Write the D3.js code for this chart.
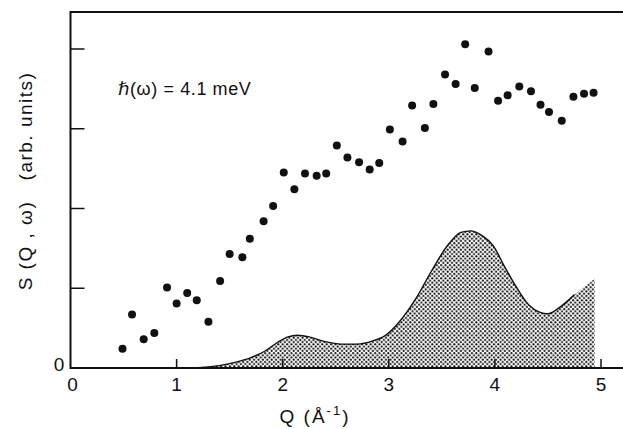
<!DOCTYPE html>
<html>
<head>
<meta charset="utf-8">
<script src="https://cdn.jsdelivr.net/npm/d3@7"></script>
<style>
  body { margin: 0; background: #fff; }
  svg text { font-family: "Liberation Sans", "DejaVu Sans", sans-serif; fill: #111; }
</style>
</head>
<body>
<div class="chart"></div>
<script>
// measured points S(Q, w) at 4.1 meV
var qPoints = [0.49, 0.58, 0.69, 0.79, 0.91, 1.00, 1.10, 1.19, 1.30, 1.41, 1.50, 1.62, 1.69, 1.82, 1.91,
               2.01, 2.11, 2.21, 2.32, 2.41, 2.51, 2.61, 2.72, 2.82, 2.91, 3.01, 3.13, 3.22, 3.34, 3.42,
               3.53, 3.63, 3.72, 3.81, 3.94, 4.03, 4.12, 4.23, 4.34, 4.43, 4.51, 4.63, 4.74, 4.84, 4.93];
var sPoints = [0.24, 0.67, 0.36, 0.44, 1.01, 0.81, 0.94, 0.85, 0.58, 1.09, 1.43, 1.39, 1.62, 1.84, 2.03,
               2.45, 2.24, 2.44, 2.41, 2.44, 2.79, 2.64, 2.58, 2.49, 2.57, 2.99, 2.84, 3.29, 3.01, 3.31,
               3.68, 3.56, 4.06, 3.51, 3.97, 3.35, 3.42, 3.53, 3.47, 3.30, 3.21, 3.10, 3.40, 3.44, 3.45];

// shaded calculated curve
var qCurve = [1.0, 1.2, 1.4, 1.55, 1.7, 1.83, 1.95, 2.05, 2.14, 2.25, 2.4, 2.55, 2.7, 2.85, 2.97,
              3.1, 3.25, 3.4, 3.55, 3.68, 3.77, 3.88, 3.98, 4.1, 4.2, 4.32, 4.42, 4.5, 4.6, 4.75, 4.94];
var sCurve = [0.0, 0.005, 0.03, 0.07, 0.13, 0.21, 0.32, 0.39, 0.41, 0.39, 0.33, 0.30, 0.30, 0.34, 0.41,
              0.58, 0.86, 1.21, 1.53, 1.70, 1.72, 1.66, 1.54, 1.25, 1.02, 0.79, 0.70, 0.68, 0.75, 0.92, 1.12];

var xTicks = [0, 1, 2, 3, 4, 5];
var yTicks = [1, 2, 3, 4];

var W = 623, H = 429;
var margin = {top: 12, left: 70.5, bottom: 61};

var svg = d3.select('div.chart').append('svg').attr('width', W).attr('height', H);

var x = d3.scaleLinear().domain([0, 5]).range([margin.left, 601]);
var y = d3.scaleLinear().domain([0, 4]).range([H - margin.bottom, 49]);

// dot screen for the shaded area
var pat = svg.append('defs').append('pattern').attr('id', 'dots')
  .attr('patternUnits', 'userSpaceOnUse').attr('width', 4.4).attr('height', 4.4);
pat.append('circle').attr('cx', 1.1).attr('cy', 1.1).attr('r', 1.05).attr('fill', '#111');
pat.append('circle').attr('cx', 3.3).attr('cy', 3.3).attr('r', 1.05).attr('fill', '#111');

var curve = qCurve.map(function(q, i) { return [q, sCurve[i]]; });

var area = d3.area().x(function(d) { return x(d[0]); })
  .y0(y(0)).y1(function(d) { return y(d[1]); }).curve(d3.curveMonotoneX);
var line = d3.line().x(function(d) { return x(d[0]); })
  .y(function(d) { return y(d[1]); }).curve(d3.curveMonotoneX);

svg.append('path').datum(curve).attr('d', area).attr('fill', 'url(#dots)');
svg.append('path').datum(curve.filter(function(d) { return d[0] <= 4.86; }))
  .attr('d', line).attr('fill', 'none').attr('stroke', '#111').attr('stroke-width', 1.4);

// frame: left, top, bottom
var x0 = x(0), yb = y(0);
svg.append('line').attr('x1', x0).attr('x2', W).attr('y1', margin.top).attr('y2', margin.top)
  .attr('stroke', '#111').attr('stroke-width', 2);
svg.append('line').attr('x1', x0).attr('x2', W).attr('y1', yb).attr('y2', yb)
  .attr('stroke', '#111').attr('stroke-width', 2);
svg.append('line').attr('x1', x0).attr('x2', x0).attr('y1', margin.top - 1).attr('y2', yb + 1)
  .attr('stroke', '#111').attr('stroke-width', 2);

// inner ticks
svg.selectAll('line.xt').data(xTicks.slice(1)).enter().append('line').attr('class', 'xt')
  .attr('x1', function(d) { return x(d); }).attr('x2', function(d) { return x(d); })
  .attr('y1', yb).attr('y2', yb - 9).attr('stroke', '#111').attr('stroke-width', 1.5);
svg.selectAll('line.yt').data(yTicks).enter().append('line').attr('class', 'yt')
  .attr('x1', x0).attr('x2', x0 + 14)
  .attr('y1', function(d) { return y(d); }).attr('y2', function(d) { return y(d); })
  .attr('stroke', '#111').attr('stroke-width', 1.5);

svg.selectAll('text.xl').data(xTicks).enter().append('text').attr('class', 'xl')
  .attr('x', function(d) { return x(d) + (d === 0 ? 2 : 0); }).attr('y', 391)
  .attr('text-anchor', 'middle').attr('font-size', 19).text(function(d) { return d; });

svg.append('text').attr('x', 59).attr('y', 371).attr('text-anchor', 'middle')
  .attr('font-size', 19).text('0');

// data points
svg.selectAll('circle.pt').data(qPoints).enter().append('circle').attr('class', 'pt')
  .attr('cx', function(d) { return x(d); })
  .attr('cy', function(d, i) { return y(sPoints[i]); })
  .attr('r', 4).attr('fill', '#111');

// labels
var xl = svg.append('text').attr('x', 315).attr('y', 423).attr('text-anchor', 'middle')
  .attr('font-size', 19).attr('letter-spacing', 2);
xl.append('tspan').text('Q (Å');
xl.append('tspan').attr('font-size', 13).attr('dy', -8).text('-1');
xl.append('tspan').attr('dy', 8).text(')');

svg.append('text').attr('transform', 'translate(32,181) rotate(-90)').attr('text-anchor', 'middle')
  .attr('font-size', 19).attr('letter-spacing', 1.5).attr('xml:space', 'preserve')
  .text('S (Q , ω)   (arb. units)');

svg.append('text').attr('x', 118).attr('y', 95).attr('font-size', 18).attr('letter-spacing', 0.6)
  .text('ℏ(ω) = 4.1 meV');
</script>
</body>
</html>
